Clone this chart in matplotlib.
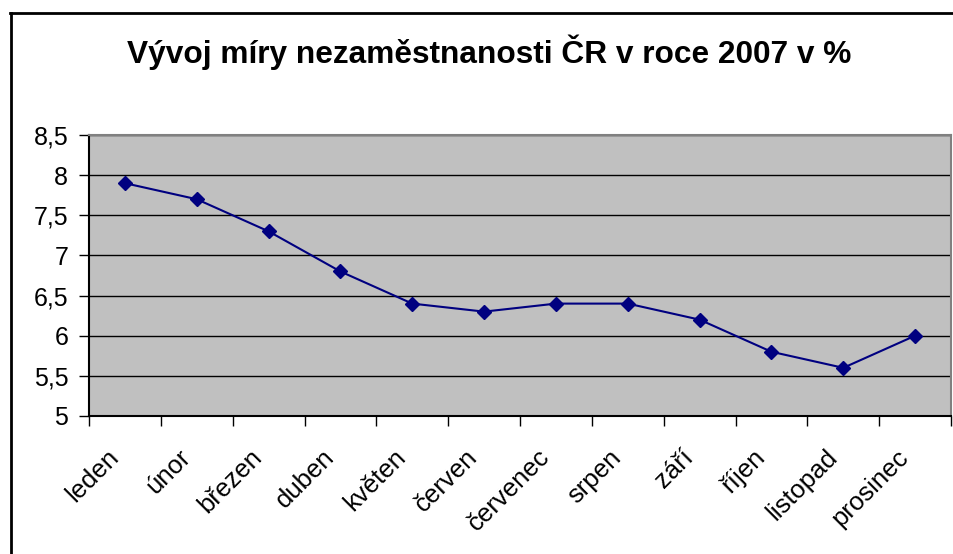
import matplotlib.pyplot as plt
import matplotlib.lines as mlines
import matplotlib.transforms as mtransforms
import numpy as np

# Data
months = ['leden', 'únor', 'březen', 'duben', 'květen', 'červen',
          'červenec', 'srpen', 'září', 'říjen', 'listopad', 'prosinec']
rate = [7.9, 7.7, 7.3, 6.8, 6.4, 6.3, 6.4, 6.4, 6.2, 5.8, 5.6, 6.0]
yticks = [5, 5.5, 6, 6.5, 7, 7.5, 8, 8.5]

plt.rcParams['font.family'] = ['Liberation Sans', 'DejaVu Sans']

fig = plt.figure(figsize=(9.54, 5.54), dpi=100)
ax = fig.add_axes([0.0933, 0.2491, 0.9036, 0.5072])
ax.set_facecolor('#C0C0C0')

x = np.arange(len(months))
ax.plot(x, rate, color='#000080', linewidth=1.5, marker='D', markersize=7,
        markerfacecolor='#000080', markeredgecolor='#000080', zorder=3)

ax.set_xlim(-0.5, len(months) - 0.5)
ax.set_ylim(5, 8.5)
ax.set_yticks(yticks)
ax.set_yticklabels([('%g' % v).replace('.', ',') for v in yticks], fontsize=18)
ax.yaxis.grid(True, color='black', linewidth=1)
ax.set_axisbelow(True)
ax.tick_params(axis='y', length=7, width=1, pad=8)

# category labels without ticks, tick marks between categories
ax.set_xticks(x)
ax.set_xticklabels(months, rotation=45, ha='right', va='center',
                   rotation_mode='anchor', fontsize=18.5)
ax.tick_params(axis='x', which='major', length=0, pad=27)
ax.set_xticks(np.arange(-0.5, len(months)), minor=True)
ax.tick_params(axis='x', which='minor', length=7, width=1)

# shift labels a bit to the left, like the original
shift = mtransforms.ScaledTranslation(-0.1, 0, fig.dpi_scale_trans)
for lab in ax.get_xticklabels():
    lab.set_transform(lab.get_transform() + shift)

for side in ['left', 'bottom']:
    ax.spines[side].set_color('black')
    ax.spines[side].set_linewidth(1.5)
for side in ['top', 'right']:
    ax.spines[side].set_color('#808080')
    ax.spines[side].set_linewidth(1.5)

fig.suptitle('Vývoj míry nezaměstnanosti ČR v roce 2007 v %', fontsize=22.8,
             fontweight='bold', x=0.5126, y=0.906, va='center')

# chart area border (left and top visible)
fig.add_artist(mlines.Line2D([0.0115, 0.0115], [0, 0.977], color='black',
                             linewidth=2, transform=fig.transFigure))
fig.add_artist(mlines.Line2D([0.0105, 1], [0.977, 0.977], color='black',
                             linewidth=2, transform=fig.transFigure))

fig.savefig('out.png', dpi=100)
